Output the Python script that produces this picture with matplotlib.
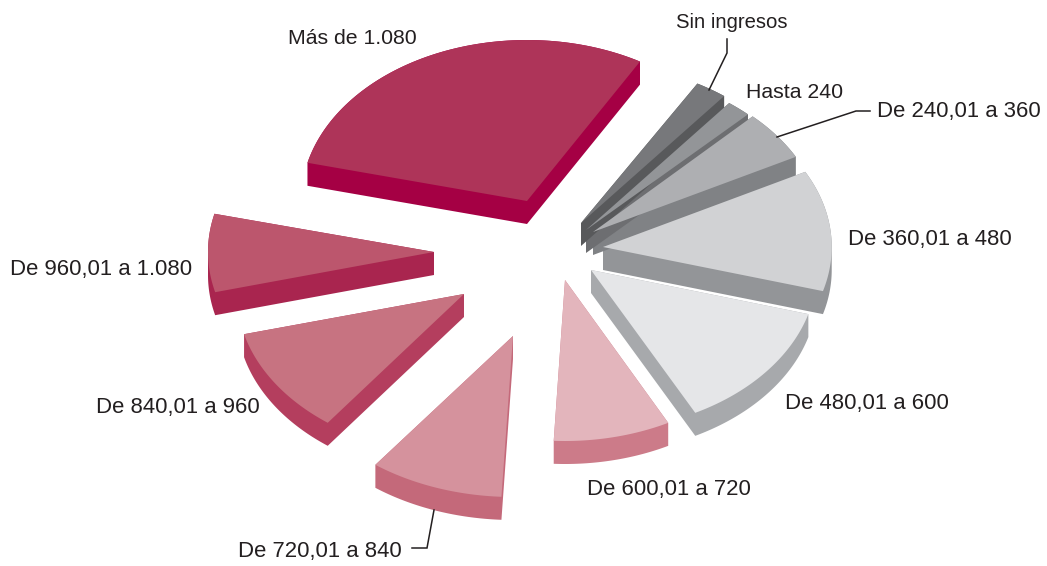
import numpy as np
import matplotlib
matplotlib.use("Agg")
import matplotlib.pyplot as plt
from matplotlib.patches import Polygon

# Data (share of households, %)
categories = ["Más de 1.080", "De 960,01 a 1.080", "De 840,01 a 960", "De 720,01 a 840",
              "De 600,01 a 720", "De 480,01 a 600", "De 360,01 a 480", "De 240,01 a 360",
              "Hasta 240", "Sin ingresos"]
shares = [29.4, 7.8, 10.7, 9.4, 8.4, 12.9, 12.1, 5.0, 1.7, 2.2]

# Styles and layout
top_colors = ["#ae3459", "#bc566d", "#c77381", "#d5929d", "#e3b5bc",
              "#e5e6e8", "#d1d2d4", "#aeafb2", "#939598", "#77787b"]
side_colors = ["#a50044", "#a9254f", "#b43e5e", "#c4697a", "#cc7b89",
               "#a7a9ac", "#939598", "#808285", "#6d6e71", "#58595b"]
apex_x = [527, 434, 464, 513, 565, 591, 603, 593, 586, 581]
apex_y = [201, 252, 294, 336, 280, 270, 247, 232, 230, 223]
radius_scale_x = [1.0, 1.0, 1.005, 1.015, 0.99, 1.0, 1.012, 1.015, 1.03, 1.03]
label_x = [288, 10, 96, 238, 587, 785, 848, 877, 746, 676]
label_y = [38, 269, 408, 551, 489, 404, 240, 111, 93, 23]
label_size = [15.3, 15.9, 15.9, 15.9, 15.9, 15.9, 15.9, 15.9, 15.3, 14.6]
START_ANGLE, RX, RY, DEPTH = 60.0, 226.0, 161.0, 23.0
leaders = {"Sin ingresos": ([727, 727, 709], [39, 53, 90]),
           "De 240,01 a 360": ([870, 856, 777], [111, 111, 137]),
           "De 720,01 a 840": ([412, 427, 434], [548, 548, 510])}


def convex_hull(points):
    pts = sorted(set(map(tuple, np.round(points, 3))))
    def half(seq):
        out = []
        for p in seq:
            while len(out) > 1 and ((out[-1][0] - out[-2][0]) * (p[1] - out[-2][1])
                                    - (out[-1][1] - out[-2][1]) * (p[0] - out[-2][0])) <= 0:
                out.pop()
            out.append(p)
        return out[:-1]
    return np.array(half(pts) + half(pts[::-1]))


plt.rcParams["font.family"] = ["Liberation Sans", "DejaVu Sans"]
fig = plt.figure(figsize=(10.47, 5.66), dpi=100)
ax = fig.add_axes([0, 0, 1, 1])
ax.set_xlim(0, 1047)
ax.set_ylim(566, 0)
ax.axis("off")

edges = START_ANGLE + np.concatenate([[0], np.cumsum(shares)]) / np.sum(shares) * 360.0
for i in range(len(shares)):
    t = np.radians(np.linspace(edges[i], edges[i + 1], 80))
    top = np.vstack([[apex_x[i], apex_y[i]],
                     np.column_stack([apex_x[i] + radius_scale_x[i] * RX * np.cos(t),
                                      apex_y[i] - RY * np.sin(t)])])
    low = top + [0, DEPTH]
    ax.add_patch(Polygon(convex_hull(np.vstack([top, low])), closed=True, fc=side_colors[i], ec="none", zorder=2 + i * 0.01))
    ax.add_patch(Polygon(top, closed=True, fc=top_colors[i], ec="none", zorder=3 + i * 0.01))

for name, (lx, ly) in leaders.items():
    ax.plot(lx, ly, color="#231f20", lw=1.1, zorder=5, solid_joinstyle="miter")
for name, x, y, fs in zip(categories, label_x, label_y, label_size):
    ax.text(x, y, name, ha="left", va="center", fontsize=fs, color="#231f20", zorder=6)

fig.savefig("out.png", dpi=100)
